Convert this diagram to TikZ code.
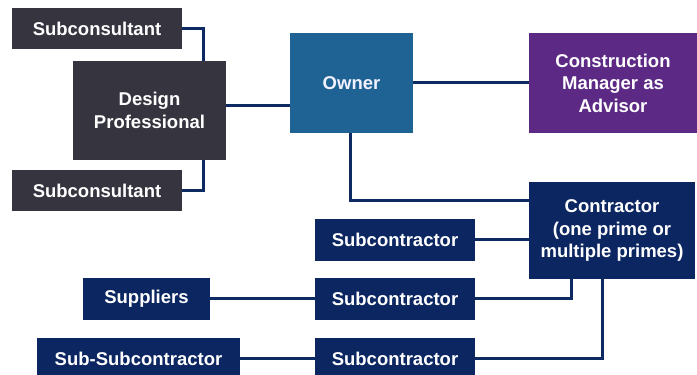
\documentclass[tikz,border=0pt]{standalone}
\usepackage{fontspec}
\setmainfont{Liberation Sans}

\definecolor{designgray}{HTML}{36343F}
\definecolor{ownerblue}{HTML}{1F6294}
\definecolor{cmpurple}{HTML}{5C2A85}
\definecolor{contnavy}{HTML}{0B2661}
\definecolor{linknavy}{HTML}{0E2A63}

\tikzset{
  box/.style={fill=#1, text=white, align=center, inner sep=0pt,
    font=\fontsize{18.5}{22.5}\selectfont\bfseries},
  link/.style={draw=linknavy, line width=3pt}
}

\begin{document}
\begin{tikzpicture}[x=1pt,y=1pt]

    \clip (0,0) rectangle (697,375);
    \fill[white] (0,0) rectangle (697,375);

    %Design side
    \node[box=designgray, minimum width=170pt, minimum height=41pt] (subconsA) at (97,346.5) {Subconsultant};
    \node[box=designgray, minimum width=153pt, minimum height=99pt] (design) at (149.5,264.5) {Design\\Professional};
    \node[box=designgray, minimum width=170pt, minimum height=41pt] (subconsB) at (97,184.5) {Subconsultant};

    %Owner and advisor
    \node[box=ownerblue, text=blue!5, minimum width=123pt, minimum height=100pt] (owner) at (351.5,292) {Owner};
    \node[box=cmpurple, minimum width=168pt, minimum height=100pt] (cm) at (613,292) {Construction\\Manager as\\Advisor};

    %Contractor side
    \node[box=contnavy, minimum width=166pt, minimum height=97pt] (contractor) at (612,144.5) {Contractor\\(one prime or\\multiple primes)};
    \node[box=contnavy, minimum width=160pt, minimum height=42pt] (subA) at (395,135) {Subcontractor};
    \node[box=contnavy, minimum width=160pt, minimum height=42pt] (subB) at (395,76) {Subcontractor};
    \node[box=contnavy, minimum width=160pt, minimum height=42pt] (subC) at (395,16) {Subcontractor};
    \node[box=contnavy, minimum width=127pt, minimum height=42pt] (suppliers) at (146.5,76) {Suppliers};
    \node[box=contnavy, minimum width=203pt, minimum height=42pt] (subsub) at (138.5,16) {Sub-Subcontractor};

    %Links
    \draw[link] (subconsA.east) -| ([xshift=-23pt]design.north east);
    \draw[link] (subconsB.east) -| ([xshift=-23pt]design.south east);
    \draw[link] ([yshift=4.5pt]design.east) -- ([yshift=4.5pt]design.east -| owner.west);
    \draw[link] (owner.east) -- (cm.west);
    \draw[link] ([xshift=-1.5pt]owner.south) |- ([yshift=-19pt]contractor.north west);
    \draw[link] (subA.east) -- (subA.east -| contractor.west);
    \draw[link] (subB.east) -| ([xshift=-41pt]contractor.south);
    \draw[link] (subC.east) -| ([xshift=-10pt]contractor.south);
    \draw[link] (suppliers.east) -- (subB.west);
    \draw[link] (subsub.east) -- (subC.west);

\end{tikzpicture}
\end{document}
